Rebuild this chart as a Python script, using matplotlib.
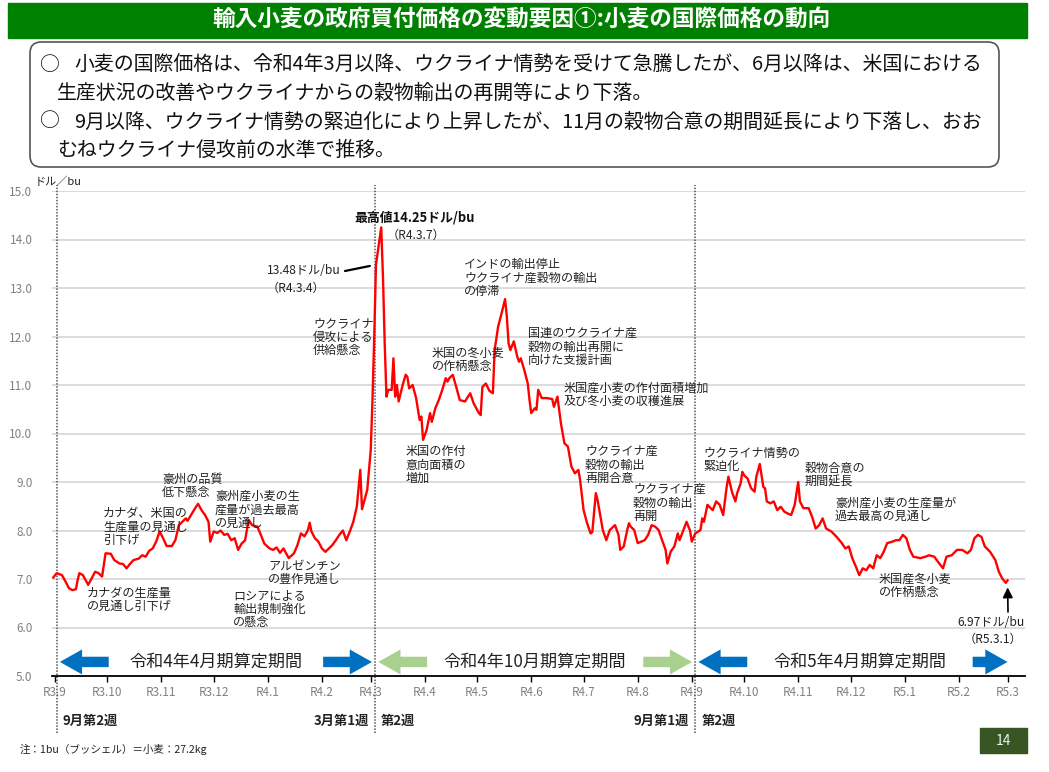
import numpy as np
import matplotlib
matplotlib.use('Agg')
import matplotlib.pyplot as plt
from matplotlib.patches import Rectangle, FancyBboxPatch
from matplotlib.transforms import Affine2D

plt.rcParams['font.family'] = ['Noto Sans CJK JP', 'DejaVu Sans']

W, H = 1049, 772

# wheat price (USD/bu), x = days since 2021-09-01 (R3.9.1)
days = [-1, 1, 4, 6, 8, 10, 12, 13, 14, 16, 18, 19, 21, 23, 25, 27, 29, 32, 34, 37,
        39, 41, 43, 45, 48, 50, 52, 54, 56, 58, 60, 62, 64, 67, 69, 71, 73, 75, 76, 78,
        80, 82, 84, 86, 88, 89, 91, 93, 95, 97, 99, 101, 103, 105, 107, 109, 111, 113, 116, 118,
        120, 123, 125, 127, 129, 131, 134, 137, 139, 141, 143, 145, 146, 147, 149, 151, 153, 155, 157, 159,
        161, 163, 165, 167, 169, 171, 173, 175, 176, 179, 181, 182, 183, 184, 187,
        188, 189, 190, 191, 193, 194, 195, 196, 197, 199, 201, 202, 203, 205, 207, 209, 210, 211, 213, 215,
        216, 218, 220, 222, 224, 225, 226, 228, 230, 232, 235, 238, 240, 243, 244, 245, 247, 249, 251, 252,
        254, 256, 258, 259, 260, 261, 263, 265, 266, 267, 269, 271, 272, 273, 275, 276, 277, 279, 282, 285,
        286, 288, 289, 290, 292, 294, 296, 298, 300, 301, 303, 305, 307, 308, 310, 311, 313, 314, 316, 318,
        321, 323, 324, 326, 328, 329, 330, 332, 334, 336, 338, 340, 342, 344, 346, 348, 350, 351, 353, 355,
        357, 358, 362, 364, 365, 367, 370, 371, 372, 374, 375, 377, 379, 381, 383, 385, 386, 388, 390, 391,
        393, 394, 395, 397, 399, 401, 402, 404, 406, 407, 408, 410, 412, 414, 416, 418, 420, 422, 424, 426,
        427, 429, 432, 434, 436, 438, 440, 442, 445, 448, 451, 453, 455, 457, 459, 461, 463, 465, 467, 469,
        471, 473, 475, 477, 480, 482, 484, 486, 488, 490, 492, 496, 499, 501, 504, 506, 509, 511, 514, 517,
        520, 523, 525, 527, 529, 531, 533, 536, 539, 541, 543, 545, 546]
price = [7.03, 7.12, 7.08, 6.95, 6.81, 6.77, 6.79, 6.98, 7.12, 7.08, 6.95, 6.88, 7.01, 7.15, 7.12, 7.05, 7.53, 7.52, 7.39, 7.32,
         7.31, 7.22, 7.31, 7.39, 7.42, 7.49, 7.46, 7.58, 7.63, 7.77, 7.98, 7.84, 7.68, 7.68, 7.80, 8.11, 8.18, 8.25, 8.20, 8.32,
         8.44, 8.55, 8.42, 8.32, 8.18, 7.77, 7.98, 7.95, 8.00, 7.91, 7.93, 7.80, 7.84, 7.60, 7.73, 7.80, 8.22, 8.11, 8.08, 7.91,
         7.73, 7.63, 7.60, 7.65, 7.54, 7.63, 7.43, 7.53, 7.70, 7.94, 7.88, 8.01, 8.16, 7.98, 7.84, 7.77, 7.63, 7.56, 7.63, 7.70,
         7.80, 7.91, 8.00, 7.80, 7.98, 8.18, 8.49, 9.25, 8.44, 8.84, 9.66, 10.70, 12.00, 13.48, 14.25,
         13.23, 11.86, 10.76, 10.90, 10.90, 11.55, 10.76, 11.00, 10.66, 10.96, 11.21, 11.17, 10.93, 11.00, 10.73, 10.28, 10.35, 9.87, 10.07, 10.42,
         10.24, 10.52, 10.69, 10.90, 11.14, 11.07, 11.14, 11.21, 10.96, 10.69, 10.66, 10.83, 10.62, 10.42, 10.38, 10.96, 11.03, 10.88, 10.83, 11.72,
         12.20, 12.48, 12.77, 12.41, 11.86, 11.72, 11.90, 11.58, 11.48, 11.55, 11.31, 11.03, 10.69, 10.42, 10.52, 10.49, 10.90, 10.73, 10.73, 10.71,
         10.55, 10.76, 10.49, 10.21, 9.80, 9.73, 9.32, 9.18, 9.25, 9.04, 8.42, 8.15, 7.94, 7.97, 8.77, 8.63, 8.22, 8.01, 7.80, 8.01,
         8.11, 7.91, 7.60, 7.67, 8.01, 8.15, 8.08, 8.01, 7.74, 7.77, 7.80, 7.91, 8.11, 8.08, 8.01, 7.80, 7.60, 7.32, 7.57, 7.67,
         7.94, 7.80, 8.18, 8.00, 7.77, 7.94, 8.01, 8.25, 8.18, 8.53, 8.49, 8.42, 8.60, 8.53, 8.32, 8.90, 9.11, 8.80, 8.60, 8.77,
         8.97, 9.21, 9.14, 9.07, 8.87, 8.80, 9.11, 9.37, 8.90, 8.87, 8.60, 8.56, 8.60, 8.42, 8.49, 8.39, 8.35, 8.32, 8.53, 9.00,
         8.60, 8.46, 8.46, 8.28, 8.04, 8.11, 8.25, 8.04, 7.98, 7.87, 7.74, 7.63, 7.67, 7.43, 7.26, 7.08, 7.22, 7.18, 7.29, 7.22,
         7.49, 7.43, 7.56, 7.74, 7.77, 7.80, 7.80, 7.91, 7.84, 7.60, 7.46, 7.43, 7.46, 7.49, 7.46, 7.36, 7.22, 7.46, 7.49, 7.60,
         7.60, 7.53, 7.60, 7.84, 7.91, 7.87, 7.67, 7.56, 7.39, 7.15, 7.01, 6.92, 6.97]

tick_labels = ['R3.9', 'R3.10', 'R3.11', 'R3.12', 'R4.1', 'R4.2', 'R4.3', 'R4.4', 'R4.5', 'R4.6',
               'R4.7', 'R4.8', 'R4.9', 'R4.10', 'R4.11', 'R4.12', 'R5.1', 'R5.2', 'R5.3']
y_ticks = [5, 6, 7, 8, 9, 10, 11, 12, 13, 14, 15]

# calculation periods (boundaries = dotted lines)
period_start = [1, 183.5, 367]
period_end = [183.5, 367, 546]
period_labels = ['令和4年4月期算定期間', '令和4年10月期算定期間', '令和5年4月期算定期間']
period_colors = ['#0070C0', '#A9D08E', '#0070C0']
week_labels = [('9月第2週', 1, 'left'), ('3月第1週', 183.5, 'right'), ('第2週', 183.5, 'left'),
               ('9月第1週', 367, 'right'), ('第2週', 367, 'left')]

start = np.datetime64('2021-09-01')
months = np.arange('2021-09', '2023-04', dtype='datetime64[M]')
tick_pos = (months.astype('datetime64[D]') - start).astype(int)

fig = plt.figure(figsize=(W / 100, H / 100), dpi=100)
px = Affine2D().scale(1.0 / W, -1.0 / H).translate(0, 1) + fig.transFigure

# header bar
fig.patches.append(Rectangle((8, 3), 1019, 35, transform=px, color='#008000', zorder=0))
fig.text(521, 20, '輸入小麦の政府買付価格の変動要因①:小麦の国際価格の動向', transform=px,
         ha='center', va='center', color='white', fontsize=16.3, fontweight='bold')

# summary box
fig.patches.append(FancyBboxPatch((30, 42), 969, 125, boxstyle='round,pad=0,rounding_size=11',
                                  transform=px, fc='white', ec='#555555', lw=1.2))
box_lines = [(40, 65, '○'), (74, 65, '小麦の国際価格は、令和4年3月以降、ウクライナ情勢を受けて急騰したが、6月以降は、米国における'),
             (57, 93, '生産状況の改善やウクライナからの穀物輸出の再開等により下落。'),
             (40, 122, '○'), (74, 122, '9月以降、ウクライナ情勢の緊迫化により上昇したが、11月の穀物合意の期間延長により下落し、おお'),
             (57, 150, 'むねウクライナ侵攻前の水準で推移。')]
for x, y, s in box_lines:
    fig.text(x, y, s, transform=px, ha='left', va='center', fontsize=14.35, color='#111111')

# main chart
ax = fig.add_axes([52 / W, 1 - 676 / H, (1025 - 52) / W, (676 - 191) / H])
ax.set_xlim(-1.7, 556)
ax.set_ylim(5, 15)
for v in y_ticks[1:]:
    ax.axhline(v, color='#d9d9d9', lw=1.3, zorder=1)
ax.plot(days, price, color='#ff0000', lw=1.7, zorder=3)

for s in ['top', 'right', 'left']:
    ax.spines[s].set_visible(False)
ax.spines['bottom'].set_linewidth(1.3)
ax.set_xticks(tick_pos)
ax.set_xticklabels(tick_labels)
ax.set_yticks(y_ticks)
ax.set_yticklabels([f'{v:.1f}' for v in y_ticks])
ax.tick_params(axis='x', length=4, width=1, labelsize=8.5, labelcolor='#808080', pad=3)
ax.tick_params(axis='y', length=0, labelsize=8.5, labelcolor='#808080', pad=14)

for d in [period_start[0]] + period_end[:2]:
    ax.axvline(d, ymin=-0.118, ymax=1.012, color='#555555', lw=1.1, ls=(0, (1, 1)),
               clip_on=False, zorder=2)

# period arrows
arrow_y = 5.29
gap_r = [1.8, 1.8, 0]
len_r = [28, 28, 20]
for i in range(3):
    lt = period_start[i] + 1.8
    ltail = lt + 28
    rt = period_end[i] - gap_r[i]
    rtail = rt - len_r[i]
    for tail, tip in [(ltail, lt), (rtail, rt)]:
        ax.annotate('', xy=(tip, arrow_y), xytext=(tail, arrow_y), annotation_clip=False,
                    arrowprops=dict(arrowstyle='simple,head_length=1.6,head_width=1.8,tail_width=0.75',
                                    mutation_scale=10, fc=period_colors[i], ec='none', lw=0,
                                    shrinkA=0, shrinkB=0))
    ax.text((ltail + rtail) / 2, arrow_y, period_labels[i], ha='center', va='center',
            fontsize=12.3, color='#222222')

for s, d, side in week_labels:
    off = 3.5 if side == 'left' else -3.5
    ax.text(d + off, 4.07, s, ha=side, va='center', fontsize=9.5, fontweight='bold',
            color='#222222', clip_on=False)

# event notes (image pixel positions)
notes = [
    (103, 527, 'カナダ、米国の\n生産量の見通し\n引下げ'),
    (162, 486, '豪州の品質\n低下懸念'),
    (215, 510, '豪州産小麦の生\n産量が過去最高\nの見通し'),
    (87, 600, 'カナダの生産量\nの見通し引下げ'),
    (233, 609, 'ロシアによる\n輸出規制強化\nの懸念'),
    (268, 573, 'アルゼンチン\nの豊作見通し'),
    (313, 337, 'ウクライナ\n侵攻による\n供給懸念'),
    (464, 278, 'インドの輸出停止\nウクライナ産穀物の輸出\nの停滞'),
    (432, 360, '米国の冬小麦\nの作柄懸念'),
    (528, 347, '国連のウクライナ産\n穀物の輸出再開に\n向けた支援計画'),
    (564, 395, '米国産小麦の作付面積増加\n及び冬小麦の収穫進展'),
    (406, 465, '米国の作付\n意向面積の\n増加'),
    (585, 465, 'ウクライナ産\n穀物の輸出\n再開合意'),
    (633, 503, 'ウクライナ産\n穀物の輸出\n再開'),
    (703, 460, 'ウクライナ情勢の\n緊迫化'),
    (805, 475, '穀物合意の\n期間延長'),
    (835, 510, '豪州産小麦の生産量が\n過去最高の見通し'),
    (879, 586, '米国産冬小麦\nの作柄懸念'),
]
for x, y, s in notes:
    fig.text(x, y, s, transform=px, ha='left', va='center', fontsize=8.7,
             linespacing=1.05, color='#222222')

fig.text(267, 270, '13.48ドル/bu', transform=px, ha='left', va='center', fontsize=8.7, color='#222222')
fig.text(267, 288, '（R4.3.4）', transform=px, ha='left', va='center', fontsize=8.7, color='#222222')
ax.annotate('', xy=(184, 13.48), xytext=(345, 271), textcoords=px,
            arrowprops=dict(arrowstyle='-', color='black', lw=1.6, shrinkA=0, shrinkB=4.5))
fig.text(354, 218, '最高値14.25ドル/bu', transform=px, ha='left', va='center', fontsize=9.3,
         fontweight='bold', color='#111111')
fig.text(387, 235, '（R4.3.7）', transform=px, ha='left', va='center', fontsize=8.7, color='#222222')
fig.text(1025, 623, '6.97ドル/bu', transform=px, ha='right', va='center', fontsize=8.7, color='#222222')
fig.text(1022, 639, '（R5.3.1）', transform=px, ha='right', va='center', fontsize=8.7, color='#222222')
ax.annotate('', xy=(546, 6.97), xytext=(1008, 612), textcoords=px,
            arrowprops=dict(arrowstyle='-|>,head_length=0.5,head_width=0.25', mutation_scale=12,
                            color='black', lw=1.2, shrinkA=0, shrinkB=5))

fig.text(35, 182, 'ドル／bu', transform=px, ha='left', va='center', fontsize=8, color='#222222')
fig.text(20, 749, '注：1bu（ブッシェル）＝小麦：27.2kg', transform=px, ha='left', va='center',
         fontsize=7.6, color='#222222')

# page number
fig.patches.append(Rectangle((980, 728), 47, 25, transform=px, color='#375623'))
fig.text(1003, 741, '14', transform=px, ha='center', va='center', fontsize=10, color='#eeeeee')

fig.savefig('out.png', dpi=100)
